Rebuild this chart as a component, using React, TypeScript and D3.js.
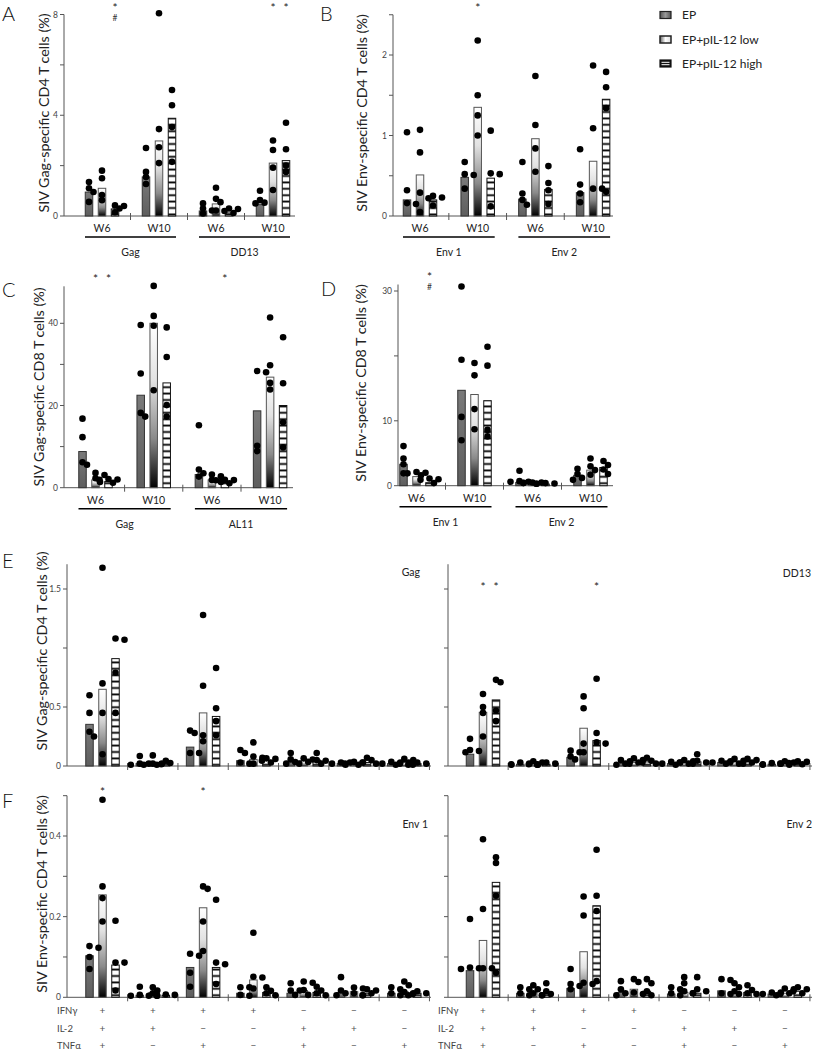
import React from "react";
import * as d3 from "d3";

// ---------------- DATA ----------------
const treatments = ["EP", "EP+pIL-12 low", "EP+pIL-12 high"];

// Panel A: SIV Gag-specific CD4 (%)
const aWeeks = ["W6", "W10", "W6", "W10"];
const aAntigens = ["Gag", "DD13"];
const aBars = [[0.95, 1.1, 0.28], [1.55, 2.98, 3.88], [0.2, 0.48, 0.12], [0.45, 2.1, 2.2]];
const aPts = [
  [[1.35, 1.1, 0.95, 0.56], [1.8, 1.5, 0.83, 0.63], [0.42, 0.4, 0.3, 0.15]],
  [[2.7, 1.75, 1.55, 1.27], [8.05, 3.45, 2.73, 2.1], [5.0, 4.4, 3.53, 2.15]],
  [[0.5, 0.3, 0.22, 0.1], [1.12, 0.68, 0.55, 0.22], [0.3, 0.28, 0.2, 0.12]],
  [[1.0, 0.63, 0.53, 0.5], [3.0, 2.62, 1.92, 1.03], [3.7, 2.65, 2.0, 1.75]],
];
const aTicks = [0, 2, 4, 6, 8];
const aTickLabels = ["0", "", "4", "", "8"];

// Panel B: SIV Env-specific CD4 (%)
const bWeeks = ["W6", "W10", "W6", "W10"];
const bAntigens = ["Env 1", "Env 2"];
const bBars = [[0.2, 0.51, 0.2], [0.48, 1.35, 0.47], [0.21, 0.96, 0.33], [0.29, 0.68, 1.45]];
const bPts = [
  [[1.04, 0.32, 0.16, 0.15], [1.07, 0.79, 0.29, 0.05], [0.25, 0.23, 0.22, 0.13]],
  [[0.67, 0.52, 0.51, 0.34], [2.18, 1.5, 1.25, 1.0], [1.06, 0.53, 0.52, 0.12]],
  [[0.67, 0.28, 0.2, 0.14], [1.74, 1.13, 0.84, 0.55], [0.62, 0.41, 0.32, 0.15]],
  [[0.83, 0.39, 0.28, 0.17], [1.87, 1.09, 0.34, 0.34], [1.79, 1.6, 1.34, 0.3]],
];
const bTicks = [0, 0.5, 1, 1.5, 2, 2.5];
const bTickLabels = ["0", "", "1", "", "2", ""];

// Panel C: SIV Gag-specific CD8 (%)
const cWeeks = ["W6", "W10", "W6", "W10"];
const cAntigens = ["Gag", "AL11"];
const cBars = [[8.8, 1.9, 1.5], [22.5, 40, 25.5], [3.2, 1.9, 1.05], [18.7, 26.9, 20]];
const cPts = [
  [[16.8, 12.3, 6.2, 5.6], [3.6, 3.1, 2.3, 1.4], [2.1, 2.0, 1.9, 1.2]],
  [[39.6, 27.8, 18.2, 17.3], [49.1, 41.8, 39.4, 23.7], [39.0, 31.8, 20.1, 17.3]],
  [[15.2, 4.4, 3.5, 2.7], [3.2, 2.8, 1.9, 1.4], [1.9, 1.85, 1.8, 1.1]],
  [[28.4, 28.1, 10.2, 8.9], [41.4, 29.8, 25.5, 23.9], [36.6, 25.4, 15.9, 9.8]],
];
const cTicks = [0, 10, 20, 30, 40];
const cTickLabels = ["0", "", "20", "", "40"];

// Panel D: SIV Env-specific CD8 (%)
const dWeeks = ["W6", "W10", "W6", "W10"];
const dAntigens = ["Env 1", "Env 2"];
const dBars = [[3.3, 1.4, 0.46], [14.7, 14.05, 13.1], [0.5, 0.3, 0.25], [1.6, 2.4, 2.8]];
const dPts = [
  [[6.1, 4.2, 3.3, 1.9], [2.1, 2.0, 1.9, 1.6], [1.1, 1.0, 0.9, 0.4]],
  [[30.7, 19.4, 10.6, 7.0], [18.9, 17.0, 11.8, 8.7], [21.4, 18.5, 8.6, 7.6]],
  [[2.3, 0.7, 0.6, 0.6], [0.5, 0.5, 0.45, 0.4], [0.4, 0.35, 0.3, 0.3]],
  [[2.6, 1.8, 1.2, 0.9], [4.2, 3.0, 2.4, 1.7], [3.8, 3.2, 2.5, 1.8]],
];
const dTicks = [0, 10, 20, 30];
const dTickLabels = ["0", "10", "", "30"];

// Panel E: SIV Gag-specific CD4 (%) by cytokine combination
const eLeftName = "Gag";
const eRightName = "DD13";
const eLBars = [[0.353, 0.65, 0.91], [0.02, 0.02, 0.02], [0.16, 0.45, 0.42], [0.045, 0.056, 0.05], [0.04, 0.045, 0.05], [0.02, 0.02, 0.03], [0.02, 0.03, 0.02]];
const eLPts = [
  [[0.6, 0.45, 0.29, 0.25], [1.68, 0.7, 0.45, 0.1], [1.08, 1.07, 0.79, 0.45]],
  [[0.085, 0.02, 0.02, 0.01], [0.09, 0.02, 0.02, 0.01], [0.045, 0.025, 0.015, 0.01]],
  [[0.3, 0.28, 0.11, 0.11], [1.28, 0.68, 0.26, 0.21], [0.83, 0.49, 0.38, 0.26]],
  [[0.135, 0.11, 0.03, 0.02], [0.2, 0.08, 0.07, 0.02], [0.065, 0.06, 0.045, 0.03]],
  [[0.11, 0.056, 0.034, 0.02], [0.065, 0.055, 0.035, 0.02], [0.11, 0.05, 0.045, 0.02]],
  [[0.03, 0.03, 0.02, 0.01], [0.035, 0.03, 0.02, 0.01], [0.07, 0.05, 0.03, 0.02]],
  [[0.035, 0.03, 0.02, 0.01], [0.06, 0.05, 0.03, 0.02], [0.03, 0.02, 0.01, 0.01]],
];
const eRBars = [[0.1, 0.455, 0.56], [0.015, 0.02, 0.015], [0.073, 0.32, 0.215], [0.025, 0.03, 0.035], [0.02, 0.03, 0.035], [0.03, 0.035, 0.035], [0.015, 0.02, 0.025]];
const eRPts = [
  [[0.23, 0.135, 0.127, 0.116], [0.61, 0.5, 0.45, 0.25], [0.73, 0.71, 0.47, 0.38]],
  [[0.03, 0.02, 0.015, 0.01], [0.04, 0.03, 0.015, 0.01], [0.03, 0.02, 0.015, 0.01]],
  [[0.13, 0.116, 0.08, 0.056], [0.59, 0.49, 0.19, 0.116], [0.74, 0.28, 0.2, 0.19]],
  [[0.05, 0.04, 0.02, 0.01], [0.065, 0.05, 0.03, 0.02], [0.07, 0.045, 0.03, 0.02]],
  [[0.035, 0.03, 0.02, 0.01], [0.05, 0.04, 0.03, 0.02], [0.1, 0.045, 0.03, 0.02]],
  [[0.045, 0.04, 0.03, 0.02], [0.06, 0.045, 0.03, 0.02], [0.06, 0.05, 0.03, 0.02]],
  [[0.025, 0.02, 0.015, 0.01], [0.04, 0.03, 0.02, 0.01], [0.04, 0.035, 0.025, 0.015]],
];
const eTicks = [0, 0.5, 1, 1.5];
const eTickLabels = ["0", "0.5", "", "1.5"];

// Panel F: SIV Env-specific CD4 (%) by cytokine combination
const fLeftName = "Env 1";
const fRightName = "Env 2";
const fLBars = [[0.103, 0.254, 0.08], [0.005, 0.012, 0.005], [0.074, 0.222, 0.074], [0.01, 0.043, 0.012], [0.01, 0.017, 0.012], [0.012, 0.014, 0.01], [0.01, 0.014, 0.01]];
const fLPts = [
  [[0.127, 0.123, 0.1, 0.07], [0.49, 0.275, 0.246, 0.188], [0.19, 0.086, 0.086, 0.017]],
  [[0.026, 0.006, 0.004, 0.004], [0.025, 0.017, 0.01, 0.004], [0.007, 0.006, 0.005, 0.004]],
  [[0.108, 0.103, 0.061, 0.026], [0.275, 0.269, 0.188, 0.115], [0.242, 0.086, 0.082, 0.033]],
  [[0.025, 0.025, 0.006, 0.004], [0.16, 0.051, 0.049, 0.022], [0.025, 0.016, 0.01, 0.005]],
  [[0.035, 0.017, 0.017, 0.006], [0.039, 0.036, 0.018, 0.006], [0.026, 0.017, 0.01, 0.005]],
  [[0.05, 0.017, 0.01, 0.005], [0.024, 0.022, 0.01, 0.005], [0.02, 0.017, 0.01, 0.005]],
  [[0.025, 0.02, 0.01, 0.005], [0.039, 0.03, 0.013, 0.01], [0.015, 0.01, 0.008, 0.005]],
];
const fRBars = [[0.066, 0.141, 0.285], [0.01, 0.012, 0.01], [0.022, 0.113, 0.227], [0.012, 0.02, 0.015], [0.008, 0.012, 0.01], [0.016, 0.012, 0.012], [0.008, 0.01, 0.015]];
const fRPts = [
  [[0.194, 0.074, 0.072, 0.07], [0.392, 0.219, 0.072, 0.072], [0.347, 0.333, 0.252, 0.061]],
  [[0.025, 0.02, 0.01, 0.005], [0.03, 0.02, 0.01, 0.005], [0.035, 0.015, 0.008, 0.005]],
  [[0.07, 0.033, 0.028, 0.02], [0.25, 0.203, 0.036, 0.033], [0.366, 0.252, 0.214, 0.04]],
  [[0.04, 0.02, 0.01, 0.005], [0.045, 0.038, 0.012, 0.008], [0.045, 0.035, 0.015, 0.005]],
  [[0.025, 0.02, 0.01, 0.005], [0.05, 0.035, 0.015, 0.01], [0.05, 0.02, 0.015, 0.01]],
  [[0.045, 0.043, 0.01, 0.008], [0.035, 0.025, 0.015, 0.008], [0.03, 0.018, 0.01, 0.008]],
  [[0.012, 0.012, 0.008, 0.005], [0.022, 0.02, 0.01, 0.008], [0.025, 0.02, 0.015, 0.01]],
];
const fTicks = [0, 0.1, 0.2, 0.3, 0.4, 0.5];
const fTickLabels = ["0", "", "0.2", "", "0.4", ""];

// cytokine combination table (IFNγ, IL-2, TNFα) per group
const cytokines = ["IFNγ", "IL-2", "TNFα"];
const combos = [
  ["+", "+", "+"],
  ["+", "+", "−"],
  ["+", "−", "+"],
  ["+", "−", "−"],
  ["−", "+", "+"],
  ["−", "+", "−"],
  ["−", "−", "+"],
];

// significance marks: [group, treatment, marks]
const aSig: [number, number, string[]][] = [[0, 2, ["*", "#"]], [3, 1, ["*"]], [3, 2, ["*"]]];
const bSig: [number, number, string[]][] = [[1, 1, ["*"]]];
const cSig: [number, number, string[]][] = [[0, 1, ["*"]], [0, 2, ["*"]], [2, 2, ["*"]]];
const dSig: [number, number, string[]][] = [[0, 2, ["*", "#"]]];
const eRSig: [number, number, string[]][] = [[0, 1, ["*"]], [0, 2, ["*"]], [2, 2, ["*"]]];
const fLSig: [number, number, string[]][] = [[0, 1, ["*"]], [2, 1, ["*"]]];

// ---------------- STYLE / LAYOUT ----------------
const FONT = "Lato, 'Open Sans', 'DejaVu Sans', sans-serif";
const BAR_OFF = 13;
const BAR_W = 7.5;
const R = 3.3;
const FILLS = ["url(#gEP)", "url(#gLow)", "url(#pHigh)"];
const STROKES = ["#333", "#555", "#111"];
const AXIS = "#555";

type Cfg = {
  axisX: number;
  xEnd: number;
  c0: number;
  step: number;
  n: number;
  dom: [number, number];
  rng: [number, number];
  axisTop: number;
  ticks: number[];
  tickLabels: string[];
  endTick: boolean;
  sigY: number; // vertical centre of the first significance mark
};

function swarm(vals: number[], y: (v: number) => number) {
  const cands = [0, 4.5, -4.5, 9, -9];
  const order = vals.map((_, i) => i).sort((a, b) => vals[b] - vals[a]);
  const placed: { dx: number; py: number }[] = [];
  const out: { dx: number; py: number }[] = new Array(vals.length);
  for (const i of order) {
    const py = y(vals[i]);
    let dx = cands[cands.length - 1];
    for (const c of cands) {
      if (placed.every((p) => Math.hypot(p.dx - c, p.py - py) >= R * 1.5)) {
        dx = c;
        break;
      }
    }
    placed.push({ dx, py });
    out[i] = { dx, py };
  }
  return out;
}

function Panel({ cfg, bars, pts, sig }: { cfg: Cfg; bars: number[][]; pts: number[][][]; sig: [number, number, string[]][] }) {
  const y = d3.scaleLinear().domain(cfg.dom).range(cfg.rng);
  const y0 = y(0);
  const idx = d3.range(cfg.n);
  const cx = d3.scaleLinear().domain([0, 1]).range([cfg.c0, cfg.c0 + cfg.step]);
  const seps = d3.range(1, cfg.endTick ? cfg.n + 1 : cfg.n).map((i) => cx(i - 0.5));
  return (
    <g>
      {/* y axis */}
      <line x1={cfg.axisX} x2={cfg.axisX} y1={y(cfg.axisTop)} y2={y0} stroke={AXIS} strokeWidth={1} />
      {cfg.ticks.map((t, i) => (
        <g key={i}>
          <line x1={cfg.axisX - 4} x2={cfg.axisX} y1={y(t)} y2={y(t)} stroke={AXIS} strokeWidth={1} />
          {cfg.tickLabels[i] ? (
            <text x={cfg.axisX - 6} y={y(t) + 3} fontSize={8.5} fill="#444" textAnchor="end" fontFamily={FONT}>
              {cfg.tickLabels[i]}
            </text>
          ) : null}
        </g>
      ))}
      {/* x axis */}
      <line x1={cfg.axisX} x2={cfg.xEnd} y1={y0} y2={y0} stroke={AXIS} strokeWidth={1} />
      {seps.map((s, i) => (
        <line key={i} x1={s} x2={s} y1={y0 - 3} y2={y0 + 4} stroke={AXIS} strokeWidth={1} />
      ))}
      {/* bars */}
      {idx.map((g) =>
        bars[g].map((v, t) => {
          const x = cx(g) + (t - 1) * BAR_OFF;
          return (
            <rect
              key={`b${g}-${t}`}
              x={x - BAR_W / 2}
              y={y(v)}
              width={BAR_W}
              height={Math.max(0.5, y0 - y(v))}
              fill={FILLS[t]}
              stroke={STROKES[t]}
              strokeWidth={1}
            />
          );
        })
      )}
      {/* points */}
      {idx.map((g) =>
        pts[g].map((vals, t) => {
          const x = cx(g) + (t - 1) * BAR_OFF;
          return swarm(vals, y).map((p, k) => <circle key={`p${g}-${t}-${k}`} cx={x + p.dx} cy={p.py} r={R} fill="#000" />);
        })
      )}
      {/* significance */}
      {sig.map(([g, t, marks], i) => {
        const x = cx(g) + (t - 1) * BAR_OFF;
        return (
          <g key={`s${i}`}>
            {marks.map((m, k) =>
              m === "*" ? (
                <text key={k} x={x} y={cfg.sigY + k * 11 + 6.5} fontSize={12} textAnchor="middle" fill="#222" fontFamily={FONT}>
                  *
                </text>
              ) : (
                <text key={k} x={x} y={cfg.sigY + k * 12 + 3.5} fontSize={8.5} textAnchor="middle" fill="#333" fontFamily={FONT}>
                  {m}
                </text>
              )
            )}
          </g>
        );
      })}
    </g>
  );
}

function WeekLabels({ cfg, weeks, antigens }: { cfg: Cfg; weeks: string[]; antigens: string[] }) {
  const y = d3.scaleLinear().domain(cfg.dom).range(cfg.rng);
  const y0 = y(0);
  const cx = d3.scaleLinear().domain([0, 1]).range([cfg.c0, cfg.c0 + cfg.step]);
  return (
    <g fontFamily={FONT} fill="#222">
      {weeks.map((w, i) => (
        <text key={i} x={cx(i)} y={y0 + 16} fontSize={10.5} textAnchor="middle">
          {w}
        </text>
      ))}
      {antigens.map((a, j) => {
        const x1 = cx(j * 2) - 17;
        const x2 = cx(j * 2 + 1) + 17;
        return (
          <g key={j}>
            <line x1={x1} x2={x2} y1={y0 + 21} y2={y0 + 21} stroke="#000" strokeWidth={1.5} />
            <text x={(x1 + x2) / 2} y={y0 + 40} fontSize={10.5} textAnchor="middle">
              {a}
            </text>
          </g>
        );
      })}
    </g>
  );
}

function YTitle({ x, y, text }: { x: number; y: number; text: string }) {
  return (
    <text transform={`translate(${x},${y}) rotate(-90)`} textAnchor="middle" fontSize={14.3} fill="#222" fontFamily={FONT}>
      {text}
    </text>
  );
}

function Letter({ x, y, t }: { x: number; y: number; t: string }) {
  return (
    <text x={x} y={y} fontSize={20} fill="#111" fontFamily={FONT} fontWeight={300}>
      {t}
    </text>
  );
}

// panel configs
const cfgA: Cfg = { axisX: 64, xEnd: 295, c0: 102, step: 57, n: 4, dom: [0, 8], rng: [216, 14.5], axisTop: 8, ticks: aTicks, tickLabels: aTickLabels, endTick: false, sigY: 5 };
const cfgB: Cfg = { axisX: 393, xEnd: 613, c0: 420, step: 57.7, n: 4, dom: [0, 2], rng: [216, 55], axisTop: 2.5, ticks: bTicks, tickLabels: bTickLabels, endTick: false, sigY: 5 };
const cfgC: Cfg = { axisX: 64, xEnd: 293, c0: 95.5, step: 58.2, n: 4, dom: [0, 40], rng: [487.7, 323.3], axisTop: 49, ticks: cTicks, tickLabels: cTickLabels, endTick: false, sigY: 276 };
const cfgD: Cfg = { axisX: 398, xEnd: 613, c0: 416.5, step: 58, n: 4, dom: [0, 30], rng: [485.7, 291], axisTop: 31, ticks: dTicks, tickLabels: dTickLabels, endTick: false, sigY: 274 };
const cfgEL: Cfg = { axisX: 67, xEnd: 431, c0: 102.5, step: 50.3, n: 7, dom: [0, 1.5], rng: [766, 589], axisTop: 1.71, ticks: eTicks, tickLabels: eTickLabels, endTick: true, sigY: 584 };
const cfgER: Cfg = { ...cfgEL, axisX: 448, xEnd: 812, c0: 483, tickLabels: ["", "", "", ""] };
const cfgFL: Cfg = { axisX: 67, xEnd: 431, c0: 102.5, step: 50.3, n: 7, dom: [0, 0.4], rng: [997.3, 836], axisTop: 0.5, ticks: fTicks, tickLabels: fTickLabels, endTick: true, sigY: 789 };
const cfgFR: Cfg = { ...cfgFL, axisX: 448, xEnd: 812, c0: 483, tickLabels: ["", "", "", "", "", ""] };

function CytoTable({ cfg, labelX }: { cfg: Cfg; labelX: number }) {
  const cx = d3.scaleLinear().domain([0, 1]).range([cfg.c0, cfg.c0 + cfg.step]);
  const rows = [1013.5, 1031.5, 1049];
  return (
    <g fontFamily={FONT} fill="#444">
      {cytokines.map((c, r) => (
        <text key={c} x={labelX} y={rows[r]} fontSize={9.5}>
          {c}
        </text>
      ))}
      {combos.map((combo, g) =>
        combo.map((s, r) => (
          <text key={`${g}-${r}`} x={cx(g)} y={rows[r]} fontSize={10} textAnchor="middle" fill="#555">
            {s}
          </text>
        ))
      )}
    </g>
  );
}

function Legend() {
  const rows = [15, 39.5, 63.5];
  return (
    <g fontFamily={FONT}>
      {treatments.map((t, i) => (
        <g key={t}>
          {i === 0 && <rect x={660} y={rows[i] - 3.5} width={11} height={7} fill="url(#gEPh)" stroke="#222" strokeWidth={1.2} />}
          {i === 1 && <rect x={660} y={rows[i] - 3.5} width={11} height={7} fill="url(#gLowH)" stroke="#222" strokeWidth={1.5} />}
          {i === 2 && (
            <g>
              <rect x={660} y={rows[i] - 3.5} width={11} height={7} fill="#111" stroke="#111" strokeWidth={1.2} />
              <line x1={661.5} x2={669.5} y1={rows[i] - 1.2} y2={rows[i] - 1.2} stroke="#fff" strokeWidth={1} />
              <line x1={661.5} x2={669.5} y1={rows[i] + 1.2} y2={rows[i] + 1.2} stroke="#fff" strokeWidth={1} />
            </g>
          )}
          <text x={682} y={rows[i] + 4} fontSize={12} fill="#222">
            {t}
          </text>
        </g>
      ))}
    </g>
  );
}

export default function App() {
  return (
    <svg width={819} height={1050} viewBox="0 0 819 1050" style={{ position: "absolute", left: 0, top: 0, background: "#fff" }}>
      <defs>
        <linearGradient id="gEP" x1="0" y1="0" x2="0" y2="1">
          <stop offset="0" stopColor="#7a7a7a" />
          <stop offset="1" stopColor="#5e5e5e" />
        </linearGradient>
        <linearGradient id="gEPh" x1="0" y1="0" x2="1" y2="0">
          <stop offset="0" stopColor="#555" />
          <stop offset="0.5" stopColor="#999" />
          <stop offset="1" stopColor="#555" />
        </linearGradient>
        <linearGradient id="gLow" x1="0" y1="0" x2="0" y2="1">
          <stop offset="0" stopColor="#ffffff" />
          <stop offset="0.35" stopColor="#e2e2e2" />
          <stop offset="0.7" stopColor="#8a8a8a" />
          <stop offset="1" stopColor="#000000" />
        </linearGradient>
        <linearGradient id="gLowH" x1="0" y1="0" x2="1" y2="0">
          <stop offset="0" stopColor="#666" />
          <stop offset="0.5" stopColor="#fff" />
          <stop offset="1" stopColor="#ddd" />
        </linearGradient>
        <pattern id="pHigh" patternUnits="userSpaceOnUse" width={8} height={6.4}>
          <rect x={0} y={0} width={8} height={6.4} fill="#fff" />
          <rect x={0} y={2.3} width={8} height={1.8} fill="#000" />
        </pattern>
      </defs>

      {/* Panel A */}
      <Letter x={2} y={21} t="A" />
      <YTitle x={49} y={113} text="SIV Gag-specific CD4 T cells (%)" />
      <Panel cfg={cfgA} bars={aBars} pts={aPts} sig={aSig} />
      <WeekLabels cfg={cfgA} weeks={aWeeks} antigens={aAntigens} />

      {/* Panel B */}
      <Letter x={320} y={21} t="B" />
      <YTitle x={366.5} y={113} text="SIV Env-specific CD4 T cells (%)" />
      <Panel cfg={cfgB} bars={bBars} pts={bPts} sig={bSig} />
      <WeekLabels cfg={cfgB} weeks={bWeeks} antigens={bAntigens} />

      <Legend />

      {/* Panel C */}
      <Letter x={2} y={297} t="C" />
      <YTitle x={44} y={387} text="SIV Gag-specific CD8 T cells (%)" />
      <Panel cfg={cfgC} bars={cBars} pts={cPts} sig={cSig} />
      <WeekLabels cfg={cfgC} weeks={cWeeks} antigens={cAntigens} />

      {/* Panel D */}
      <Letter x={321} y={296} t="D" />
      <YTitle x={366} y={383} text="SIV Env-specific CD8 T cells (%)" />
      <Panel cfg={cfgD} bars={dBars} pts={dPts} sig={dSig} />
      <WeekLabels cfg={cfgD} weeks={dWeeks} antigens={dAntigens} />

      {/* Panel E */}
      <Letter x={2} y={568} t="E" />
      <YTitle x={46.5} y={651} text="SIV Gag-specific CD4 T cells (%)" />
      <Panel cfg={cfgEL} bars={eLBars} pts={eLPts} sig={[]} />
      <Panel cfg={cfgER} bars={eRBars} pts={eRPts} sig={eRSig} />
      <text x={420} y={576} fontSize={10.5} textAnchor="end" fill="#222" fontFamily={FONT}>
        {eLeftName}
      </text>
      <text x={811} y={577} fontSize={10.5} textAnchor="end" fill="#222" fontFamily={FONT}>
        {eRightName}
      </text>

      {/* Panel F */}
      <Letter x={2} y={808} t="F" />
      <YTitle x={46.5} y={894} text="SIV Env-specific CD4 T cells (%)" />
      <Panel cfg={cfgFL} bars={fLBars} pts={fLPts} sig={fLSig} />
      <Panel cfg={cfgFR} bars={fRBars} pts={fRPts} sig={[]} />
      <text x={428} y={828} fontSize={10.5} textAnchor="end" fill="#222" fontFamily={FONT}>
        {fLeftName}
      </text>
      <text x={812} y={828} fontSize={10.5} textAnchor="end" fill="#222" fontFamily={FONT}>
        {fRightName}
      </text>
      <CytoTable cfg={cfgFL} labelX={57} />
      <CytoTable cfg={cfgFR} labelX={438} />
    </svg>
  );
}
